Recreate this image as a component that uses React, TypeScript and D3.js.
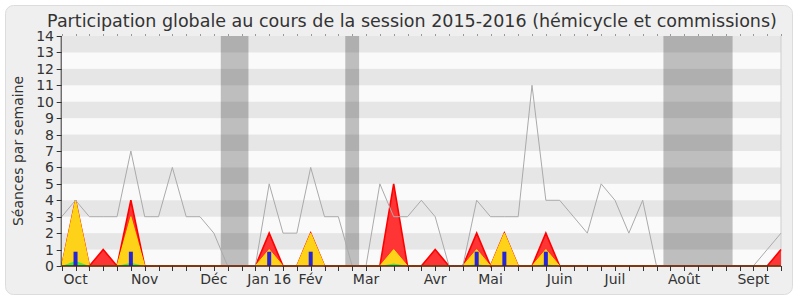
import React from "react";
import * as d3 from "d3";

const weeks: number[] = d3.range(0, 53);
const totalSeances = [3,4,3,3,3,7,3,3,6,3,3,2,0,0,0,5,2,2,6,3,3,0,0,5,3,3,4,3,0,0,4,3,3,3,11,4,4,3,2,5,4,2,4,0,0,0,0,0,0,0,0,1,2];
const redSeries = [0,4,0,1,0,4,0,0,0,0,0,0,0,0,0,2,0,0,2,0,0,0,0,0,5,0,0,1,0,0,2,0,2,0,0,2,0,0,0,0,0,0,0,0,0,0,0,0,0,0,0,0,1];
const yellowSeries = [0,4,0,0,0,3,0,0,0,0,0,0,0,0,0,1,0,0,2,0,0,0,0,0,1,0,0,0,0,0,1,0,2,0,0,1,0,0,0,0,0,0,0,0,0,0,0,0,0,0,0,0,0];
const greenSeries = [0,0.3,0,0,0,0.2,0,0,0,0,0,0,0,0,0,0,0,0,0,0,0,0,0,0,0.15,0,0,0,0,0,0.1,0,0,0,0,0.1,0,0,0,0,0,0,0,0,0,0,0,0,0,0,0,0,0];
const blueBars = [0,0.87,0,0,0,0.87,0,0,0,0,0,0,0,0,0,0.87,0,0,0.87,0,0,0,0,0,0,0,0,0,0,0,0.87,0,0.87,0,0,0.87,0,0,0,0,0,0,0,0,0,0,0,0,0,0,0,0,0];
const vacations: [number, number][] = [[12, 13], [21, 21], [44, 48]];
const monthLabels = ["Oct", "Nov", "Déc", "Jan 16", "Fév", "Mar", "Avr", "Mai", "Juin", "Juil", "Août", "Sept"];
const monthWeeks = [1, 6, 11, 15, 18, 22, 27, 31, 36, 40, 45, 50];
const yTicks: number[] = d3.range(0, 15);

const FONT = "'DejaVu Sans', Verdana, sans-serif";

export default function App() {
  const x = d3.scaleLinear().domain([0, 52]).range([61.7, 781]);
  const y = d3.scaleLinear().domain([0, 14]).range([266, 36]);
  const left = x(0), right = x(52), top = y(14), bottom = y(0);

  const area = (vals: number[]) =>
    d3.area<number>().x((_, i) => x(i)).y0(bottom).y1((d) => y(d))(vals) || "";
  const line = (vals: number[]) =>
    d3.line<number>().x((_, i) => x(i)).y((d) => y(d))(vals) || "";

  return (
    <svg width={800} height={300} style={{ position: "absolute", left: 0, top: 0 }} fontFamily={FONT}>
      <rect x={5.5} y={5.5} width={787} height={289} rx={8} fill="#efefef" stroke="#dcdcdc" />
      <text x={412} y={27} textAnchor="middle" fontSize={17.5} fill="#333">
        Participation globale au cours de la session 2015-2016 (hémicycle et commissions)
      </text>
      {/* plot background */}
      <rect x={left} y={top} width={right - left} height={bottom - top} fill="#fafafa" />
      {yTicks.slice(0, 14).filter((k) => k % 2 === 1).map((k) => (
        <rect key={"s" + k} x={left} y={y(k + 1)} width={right - left} height={y(k) - y(k + 1)} fill="#e6e6e6" />
      ))}
      {vacations.map(([a, b], i) => (
        <rect key={"v" + i} x={x(a - 0.5)} y={top} width={x(b + 0.5) - x(a - 0.5)} height={bottom - top} fill="rgba(0,0,0,0.24)" />
      ))}
      <line x1={right} x2={right} y1={top} y2={bottom} stroke="#cfcfcf" />
      {/* series */}
      <path d={area(redSeries)} fill="#ff3535" />
      <path d={line(redSeries)} fill="none" stroke="#ff0000" strokeWidth={1.6} />
      <path d={area(yellowSeries)} fill="#ffd21a" />
      <path d={line(yellowSeries)} fill="none" stroke="#ffe000" strokeWidth={1} />
      <path d={area(greenSeries)} fill="#3ef03e" />
      <path d={line(totalSeances)} fill="none" stroke="#aaaaaa" strokeWidth={1} />
      {blueBars.map((v, i) =>
        v > 0 ? <rect key={"b" + i} x={x(i) - 2} y={y(v)} width={4} height={bottom - y(v)} fill="#2424d8" /> : null
      )}
      {/* axes */}
      <line x1={left} x2={right} y1={bottom} y2={bottom} stroke="#5a1a08" strokeWidth={1.6} />
      {weeks.map((i) => (
        <line key={"t" + i} x1={Math.round(x(i)) + 0.5} x2={Math.round(x(i)) + 0.5} y1={bottom} y2={bottom + 5} stroke="#333" />
      ))}
      {weeks.map((i) => (
        <rect key={"d" + i} x={Math.round(x(i))} y={top - 1.5} width={1} height={1} fill="#444" />
      ))}
      <line x1={left - 0.5} x2={left - 0.5} y1={top} y2={bottom} stroke="#333" />
      {yTicks.map((k) => (
        <g key={"y" + k}>
          <line x1={left - 5} x2={left} y1={Math.round(y(k)) + 0.5} y2={Math.round(y(k)) + 0.5} stroke="#333" />
          <text x={54} y={y(k)} dy="0.36em" textAnchor="end" fontSize={14} fill="#333">{k}</text>
        </g>
      ))}
      {monthLabels.map((m, i) => (
        <text key={"m" + i} x={x(monthWeeks[i])} y={284} textAnchor="middle" fontSize={14} fill="#333">{m}</text>
      ))}
      <text transform={`translate(23,151) rotate(-90)`} textAnchor="middle" fontSize={14} fill="#333">
        Séances par semaine
      </text>
    </svg>
  );
}
